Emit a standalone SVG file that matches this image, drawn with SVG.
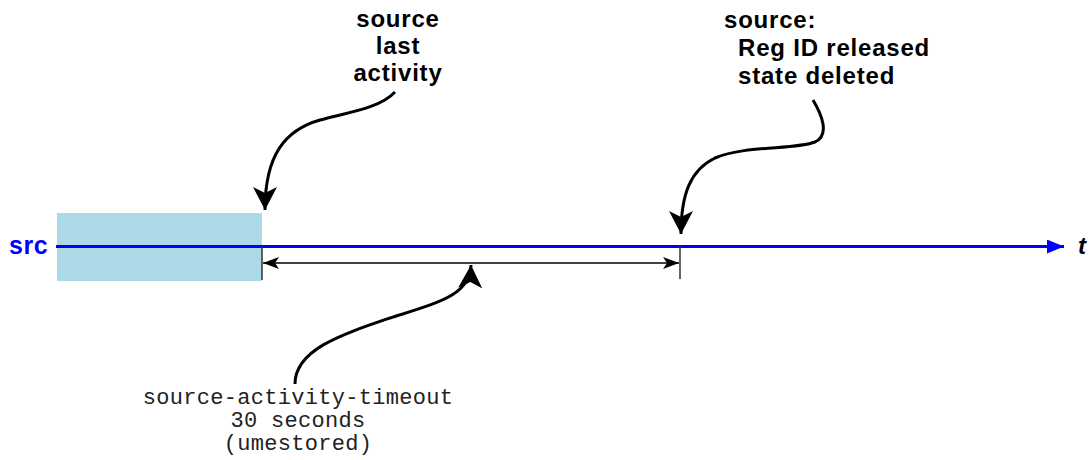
<svg xmlns="http://www.w3.org/2000/svg" width="1089" height="460" viewBox="0 0 1089 460">
<style>
.lbl{font-family:"Liberation Sans",Arial,sans-serif;font-weight:bold;font-size:24px;letter-spacing:0.8px;fill:#000}
.mono{font-family:"Liberation Mono","Courier New",monospace;font-size:22px;letter-spacing:0.3px;fill:#222}
.curve{fill:none;stroke:#000;stroke-width:3}
.tick{stroke:#333;stroke-width:1.5}
</style>
<defs>
<marker id="bigHead" markerUnits="userSpaceOnUse" viewBox="0 -12 24 24" refX="23" refY="0" markerWidth="24" markerHeight="24" orient="auto">
<path d="M0,-12 L23,0 L0,12 L6,0 z" fill="#000"/>
</marker>
<marker id="dimHead" markerUnits="userSpaceOnUse" viewBox="0 -6 16 12" refX="16" refY="0" markerWidth="16" markerHeight="12" orient="auto-start-reverse">
<path d="M0,-6 L16,0 L0,6 L4,0 z" fill="#000"/>
</marker>
<marker id="blueHead" markerUnits="userSpaceOnUse" viewBox="0 -7 18 14" refX="17" refY="0" markerWidth="18" markerHeight="14" orient="auto">
<path d="M0,-7 L17,0 L0,7 z" fill="#0000ff"/>
</marker>
</defs>
<g id="activity-box">
<rect x="57" y="213" width="205" height="68" fill="#ADD8E6"/>
</g>
<g id="src-label">
<text x="9" y="254" style="font-family:'Liberation Sans',Arial,sans-serif;font-weight:bold;font-size:25px;letter-spacing:0.5px;fill:#0000ff">src</text>
</g>
<g id="t-label">
<text x="1078" y="254" style="font-family:'Liberation Sans',Arial,sans-serif;font-weight:bold;font-style:italic;font-size:24px;fill:#000">t</text>
</g>
<g id="last-activity-label">
<text class="lbl" text-anchor="middle" x="398" y="27">source</text>
<text class="lbl" text-anchor="middle" x="398" y="54">last</text>
<text class="lbl" text-anchor="middle" x="398" y="81">activity</text>
</g>
<g id="released-label">
<text class="lbl" x="724" y="28">source:</text>
<text class="lbl" x="738" y="56">Reg ID released</text>
<text class="lbl" x="738" y="84">state deleted</text>
</g>
<g id="timeout-label">
<text class="mono" text-anchor="middle" x="298" y="404">source-activity-timeout</text>
<text class="mono" text-anchor="middle" x="298" y="427">30 seconds</text>
<text class="mono" text-anchor="middle" x="298" y="450">(umestored)</text>
</g>
<g id="connectors">
<line x1="56" y1="246.5" x2="1064" y2="246.5" stroke="#0000ff" stroke-width="3" marker-end="url(#blueHead)"/>
<line class="tick" x1="262" y1="246" x2="262" y2="280"/>
<line class="tick" x1="680" y1="246" x2="680" y2="279"/>
<line x1="263" y1="263" x2="679" y2="263" stroke="#000" stroke-width="1.5" marker-start="url(#dimHead)" marker-end="url(#dimHead)"/>
<path class="curve" d="M395,92 C380,108 350,112 320,120 C285,130 265,155 265,210" marker-end="url(#bigHead)"/>
<path class="curve" d="M813,100 C822,115 830,135 815,142 C795,150 745,145 715,158 C690,170 681,195 681,234" marker-end="url(#bigHead)"/>
<path class="curve" d="M295,384 C295,350 340,335 390,318 C440,302 470,295 471,265" marker-end="url(#bigHead)"/>
</g>
</svg>
